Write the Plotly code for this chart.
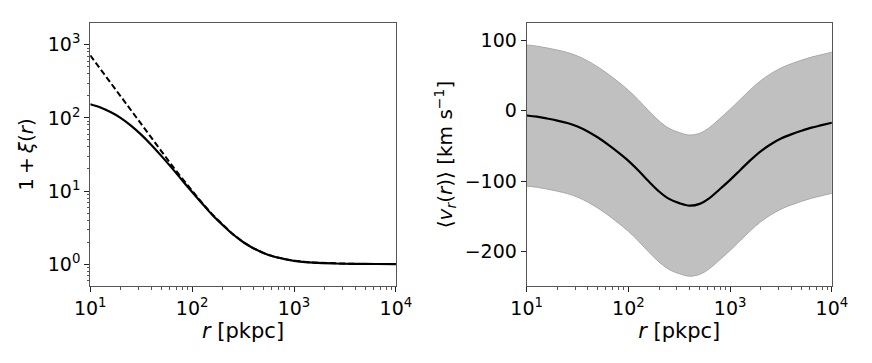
import plotly.graph_objects as go

# radii (pkpc), log-spaced
r_xi = [10, 12.6, 15.8, 20, 25.1, 31.6, 39.8, 50.1, 63.1, 79.4, 100, 126, 158, 200,
        251, 316, 398, 501, 631, 794, 1000, 1585, 2512, 3981, 6310, 10000]
# 1 + xi(r): solid (model) and dashed (power law)
xi_solid = [153.5, 138.7, 120.1, 99.5, 78.4, 59.0, 42.7, 30.0, 20.7, 14.15, 9.68, 6.68,
            4.70, 3.41, 2.56, 2.006, 1.65, 1.42, 1.27, 1.18, 1.11, 1.047, 1.02, 1.008,
            1.003, 1.001]
xi_dashed = [717, 463, 300, 194, 125.5, 81.4, 52.9, 34.5, 22.6, 14.96, 10.0, 6.82,
             4.76, 3.43, 2.57, 2.01, 1.65, 1.42, 1.27, 1.18, 1.11, 1.047, 1.02, 1.008,
             1.003, 1.001]

r_v = [10, 12.6, 15.8, 20, 25.1, 31.6, 39.8, 50.1, 63.1, 79.4, 100, 126, 158, 200,
       251, 316, 398, 501, 631, 794, 1000, 1259, 1585, 1995, 2512, 3162, 3981, 5012,
       6310, 7943, 10000]
v_mean = [-6.8, -8.5, -11, -14, -17.5, -22.5, -29.5, -38, -48, -59, -71, -85, -100,
          -114.5, -125, -131, -134.5, -132, -123.5, -111, -98, -84, -70, -57.5, -47.5,
          -39.5, -33.5, -28.5, -24, -20.5, -17]
v_hi = [93.2, 91.5, 89, 86, 82.5, 77.5, 70.5, 62, 52, 41, 29, 15, 0, -14.5, -25, -31,
        -34.5, -32, -23.5, -11, 2, 16, 30, 42.5, 52.5, 60.5, 66.5, 71.5, 76, 79.5, 83]
v_lo = [-106.8, -108.5, -111, -114, -117.5, -122.5, -129.5, -138, -148, -159, -171,
        -185, -200, -214.5, -225, -231, -234.5, -232, -223.5, -211, -198, -184, -170,
        -157.5, -147.5, -139.5, -133.5, -128.5, -124, -120.5, -117]

decade_vals = [10, 100, 1000, 10000]
decade_text = ['10<sup>1</sup>', '10<sup>2</sup>', '10<sup>3</sup>', '10<sup>4</sup>']
minor_x = [m * d for d in [10, 100, 1000] for m in range(2, 10)]
y_dec_vals = [1, 10, 100, 1000]
y_dec_text = ['10<sup>0</sup>', '10<sup>1</sup>', '10<sup>2</sup>', '10<sup>3</sup>']
minor_y = [m * d for d in [0.1, 1, 10, 100, 1000] for m in range(2, 10)]

FONT = 'DejaVu Sans'
frame = dict(showline=True, mirror=True, linecolor='#555', linewidth=1,
             showgrid=False, zeroline=False, ticks='outside', ticklen=5,
             tickcolor='#222', tickfont=dict(family=FONT, size=19, color='black'),
             automargin=False)
minor_style = dict(ticks='outside', ticklen=2.5, tickcolor='#555')

fig = go.Figure()

fig.add_trace(go.Scatter(x=r_xi, y=xi_dashed, mode='lines', xaxis='x', yaxis='y',
                         line=dict(color='black', width=2, dash='6px,3px'), showlegend=False))
fig.add_trace(go.Scatter(x=r_xi, y=xi_solid, mode='lines', xaxis='x', yaxis='y',
                         line=dict(color='black', width=2.2, shape='spline'), showlegend=False))

fig.add_trace(go.Scatter(x=r_v, y=v_lo, mode='lines', xaxis='x2', yaxis='y2',
                         line=dict(color='#a8a8a8', width=1, shape='spline'), showlegend=False))
fig.add_trace(go.Scatter(x=r_v, y=v_hi, mode='lines', xaxis='x2', yaxis='y2', fill='tonexty',
                         fillcolor='#c0c0c0',
                         line=dict(color='#a8a8a8', width=1, shape='spline'), showlegend=False))
fig.add_trace(go.Scatter(x=r_v, y=v_mean, mode='lines', xaxis='x2', yaxis='y2',
                         line=dict(color='black', width=2.2, shape='spline'), showlegend=False))

xtitle = dict(text='<i>r</i> [pkpc]', font=dict(family=FONT, size=21, color='black'), standoff=4)

fig.update_layout(
    width=872, height=363,
    margin=dict(l=0, r=0, t=0, b=0),
    paper_bgcolor='white', plot_bgcolor='white',
    xaxis=dict(frame, type='log', range=[1, 4], domain=[0.1035, 0.454], anchor='y',
               tickvals=decade_vals, ticktext=decade_text, title=xtitle,
               minor=dict(minor_style, tickvals=minor_x)),
    yaxis=dict(frame, type='log', range=[-0.30, 3.30], domain=[0.212, 0.937], anchor='x',
               tickvals=y_dec_vals, ticktext=y_dec_text,
               title=dict(text='1\u2009+\u2009<i>ξ</i>(<i>r</i>)',
                          font=dict(family=FONT, size=20, color='black'), standoff=8),
               minor=dict(minor_style, tickvals=minor_y)),
    xaxis2=dict(frame, type='log', range=[1, 4], domain=[0.604, 0.954], anchor='y2',
                tickvals=decade_vals, ticktext=decade_text, title=xtitle,
                minor=dict(minor_style, tickvals=minor_x)),
    yaxis2=dict(frame, range=[-248.5, 124.5], domain=[0.212, 0.937], anchor='x2',
                tickvals=[-200, -100, 0, 100], ticktext=['\u2212200', '\u2212100', '0', '100'],
                title=dict(text='\u27e8<i>v<sub>r</sub></i>(<i>r</i>)\u27e9 [km s<sup>\u22121</sup>]',
                           font=dict(family=FONT, size=20, color='black'), standoff=6)),
)

fig.write_html('out.html', config={'displayModeBar': False},
               post_script="document.body.style.margin='0px';")
